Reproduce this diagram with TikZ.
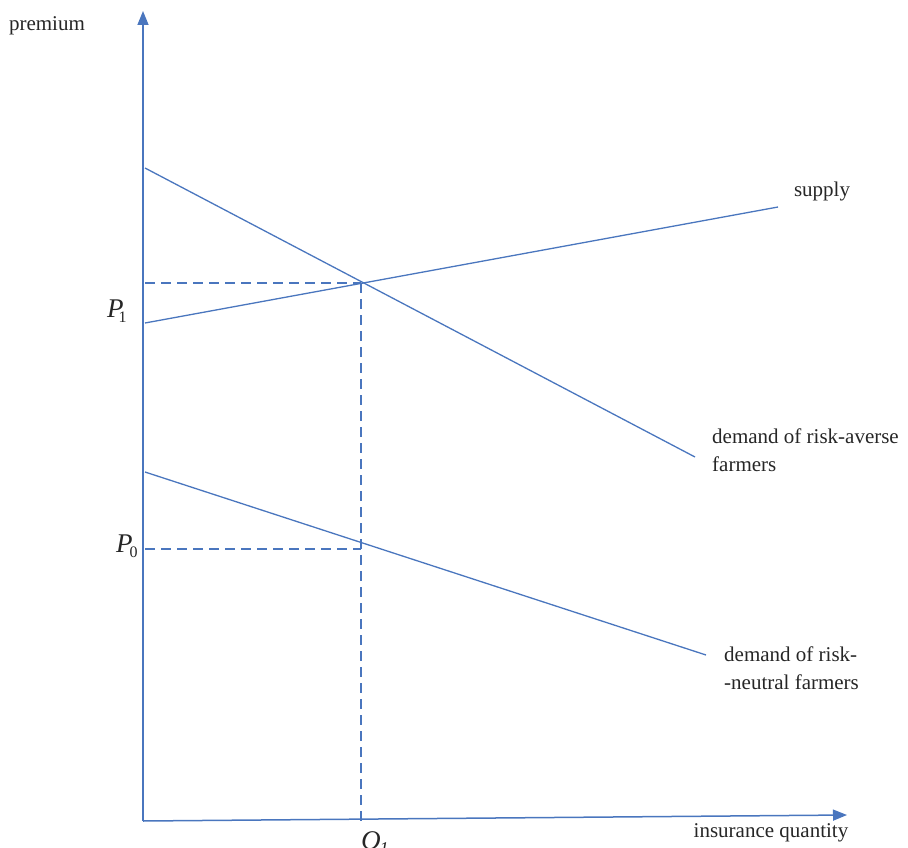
\documentclass[tikz,border=0pt]{standalone}
\usepackage{fontspec}
\setmainfont{Liberation Serif}
\usetikzlibrary{arrows.meta}
\definecolor{lineblue}{RGB}{74,118,190}
\begin{document}
\begin{tikzpicture}[x=1pt,y=-1pt,
  curve/.style={draw=lineblue,line width=1.3pt},
  axis/.style={draw=lineblue,line width=1.5pt,-{Triangle[length=14pt,width=11pt]}},
  guide/.style={draw=lineblue,line width=1.3pt,dash pattern=on 10pt off 6pt},
  lbl/.style={inner sep=0pt,font=\fontsize{21}{28}\selectfont,text=black!85},
  plbl/.style={inner sep=0pt,font=\fontsize{27}{30}\selectfont\itshape,text=black!85}]
\useasboundingbox (0,0) rectangle (908,848);
% axes
\coordinate (O) at (143,821);
\coordinate (Ytop) at (143,11);
\coordinate (Xend) at (847,815);
\draw[axis] (O) -- (Ytop);
\draw[axis] (O) -- (Xend);
% curves
\coordinate (S0) at (145,323);
\coordinate (S1) at (778,207);
\coordinate (A0) at (145,168);
\coordinate (A1) at (695,457);
\coordinate (N0) at (145,472);
\coordinate (N1) at (706,655);
\coordinate (E1) at (361,283);
\coordinate (E0) at (361,549);
\coordinate (Ya) at (145,283);
\coordinate (Yb) at (145,549);
\coordinate (Xq) at (361,821);
\draw[curve] (S0) -- (S1);
\draw[curve] (A0) -- (A1);
\draw[curve] (N0) -- (N1);
% guides
\draw[guide] (Ya) -- (E1);
\draw[guide] (E1) -- (Xq);
\draw[guide] (Yb) -- (E0);
% labels
\node[lbl] (prem) at (47,26) {premium};
\node[lbl] (xlab) at (771,833) {insurance quantity};
\node[lbl] (sup) at (822,191) {supply};
\node[lbl,align=left,anchor=north west] (dra) at (712,429) {demand of risk-averse\\farmers};
\node[lbl,align=left,anchor=north west] (drn) at (724,647) {demand of risk-\\-neutral farmers};
\node[plbl,anchor=base west] (p1) at (107,317) {P\kern-5pt\raisebox{-5pt}{\upshape\fontsize{16}{16}\selectfont 1}};
\node[plbl,anchor=base west] (p0) at (116,552) {P\kern-3pt\raisebox{-5pt}{\upshape\fontsize{16}{16}\selectfont 0}};
\node[plbl,anchor=base west] (q1) at (361,849) {Q\kern-1pt\raisebox{-5pt}{\fontsize{18}{18}\selectfont 1}};
\end{tikzpicture}
\end{document}
